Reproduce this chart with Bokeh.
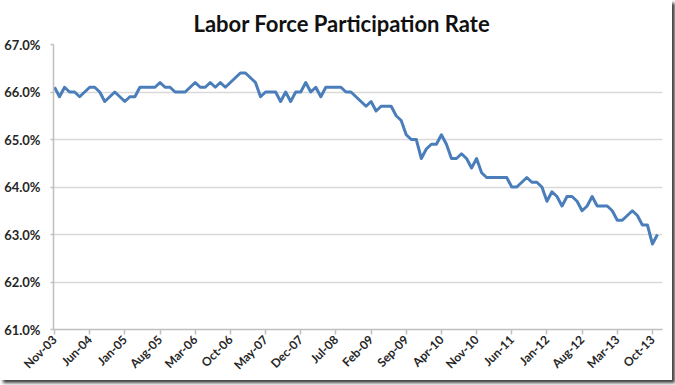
from bokeh.plotting import figure
from bokeh.models import Range1d, FixedTicker, PrintfTickFormatter, ColumnDataSource
from bokeh.embed import file_html
from bokeh.resources import INLINE
from math import pi

# Labor force participation rate, monthly, Nov-2003 .. Nov-2013 (percent)
rate_2003 = [66.1, 65.9]  # Nov, Dec
rate_2004 = [66.1, 66.0, 66.0, 65.9, 66.0, 66.1, 66.1, 66.0, 65.8, 65.9, 66.0, 65.9]
rate_2005 = [65.8, 65.9, 65.9, 66.1, 66.1, 66.1, 66.1, 66.2, 66.1, 66.1, 66.0, 66.0]
rate_2006 = [66.0, 66.1, 66.2, 66.1, 66.1, 66.2, 66.1, 66.2, 66.1, 66.2, 66.3, 66.4]
rate_2007 = [66.4, 66.3, 66.2, 65.9, 66.0, 66.0, 66.0, 65.8, 66.0, 65.8, 66.0, 66.0]
rate_2008 = [66.2, 66.0, 66.1, 65.9, 66.1, 66.1, 66.1, 66.1, 66.0, 66.0, 65.9, 65.8]
rate_2009 = [65.7, 65.8, 65.6, 65.7, 65.7, 65.7, 65.5, 65.4, 65.1, 65.0, 65.0, 64.6]
rate_2010 = [64.8, 64.9, 64.9, 65.1, 64.9, 64.6, 64.6, 64.7, 64.6, 64.4, 64.6, 64.3]
rate_2011 = [64.2, 64.2, 64.2, 64.2, 64.2, 64.0, 64.0, 64.1, 64.2, 64.1, 64.1, 64.0]
rate_2012 = [63.7, 63.9, 63.8, 63.6, 63.8, 63.8, 63.7, 63.5, 63.6, 63.8, 63.6, 63.6]
rate_2013 = [63.6, 63.5, 63.3, 63.3, 63.4, 63.5, 63.4, 63.2, 63.2, 62.8, 63.0]  # Jan..Nov

tick_labels = ["Nov-03", "Jun-04", "Jan-05", "Aug-05", "Mar-06", "Oct-06",
               "May-07", "Dec-07", "Jul-08", "Feb-09", "Sep-09", "Apr-10",
               "Nov-10", "Jun-11", "Jan-12", "Aug-12", "Mar-13", "Oct-13"]
tick_every = 7  # months between labelled ticks
y_ticks = [61, 62, 63, 64, 65, 66, 67]

rates = (rate_2003 + rate_2004 + rate_2005 + rate_2006 + rate_2007 + rate_2008 +
         rate_2009 + rate_2010 + rate_2011 + rate_2012 + rate_2013)
month_index = list(range(len(rates)))
tick_pos = [i * tick_every for i in range(len(tick_labels))]

src = ColumnDataSource(dict(x=month_index, y=rates))

FONT = "Lato"
p = figure(width=672, height=380, output_backend="svg", toolbar_location=None,
           x_range=Range1d(-0.2, 121), y_range=Range1d(61, 67),
           min_border_left=53, min_border_right=10, min_border_top=44, min_border_bottom=51,
           title="Labor Force Participation Rate")
p.styles = {"box-shadow": "3px 3px 3px rgba(0,0,0,0.75)"}
p.outline_line_color = None
p.background_fill_color = "white"
p.border_fill_color = "white"

p.title.text_font = FONT
p.title.text_font_size = "22px"
p.title.text_font_style = "bold"
p.title.text_color = "#111111"
p.title.align = "left"
p.title.offset = 140
p.title.standoff = 15

p.line("x", "y", source=src, line_color="#4a7ebb", line_width=3, line_join="round")

p.xgrid.grid_line_color = None
p.ygrid.grid_line_color = "#d9d9d9"
p.ygrid.grid_line_width = 1.5

p.xaxis.ticker = FixedTicker(ticks=tick_pos)
p.xaxis.major_label_overrides = {pos: lab for pos, lab in zip(tick_pos, tick_labels)}
p.xaxis.major_label_orientation = pi / 4
p.xaxis.minor_tick_line_color = None
p.yaxis.ticker = FixedTicker(ticks=y_ticks)
p.yaxis.formatter = PrintfTickFormatter(format="%.1f%%")
p.yaxis.minor_tick_line_color = None

for ax in (p.xaxis[0], p.yaxis[0]):
    ax.axis_line_color = "#bfbfbf"
    ax.axis_line_width = 1.5
    ax.major_tick_line_color = "#bfbfbf"
    ax.major_tick_line_width = 1.5
    ax.major_tick_in = 0
    ax.major_label_text_font = FONT
    ax.major_label_text_font_style = "bold"
    ax.major_label_text_color = "#262626"
p.xaxis.major_label_text_font_size = "12px"
p.yaxis.major_label_text_font_size = "13px"
p.xaxis.major_tick_out = 5
p.yaxis.major_tick_out = 3
p.xaxis.major_label_standoff = 3
p.yaxis.major_label_standoff = 10

open("out.html", "w").write(file_html(p, INLINE))
